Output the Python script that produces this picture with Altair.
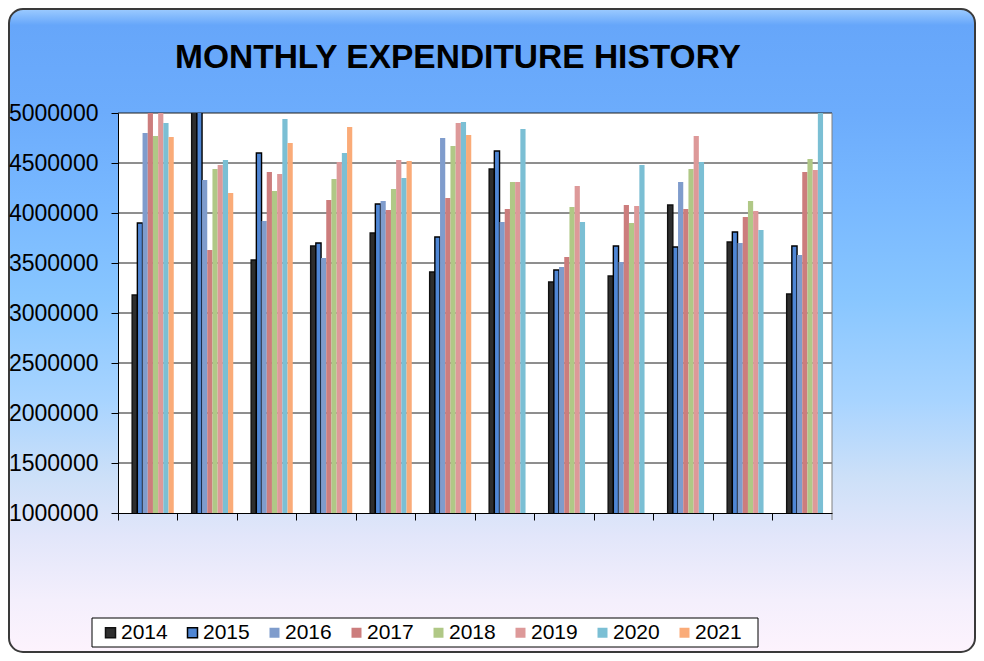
import altair as alt
import pandas as pd

# ---------------- data ----------------
months = ["Jan", "Feb", "Mar", "Apr", "May", "Jun",
          "Jul", "Aug", "Sep", "Oct", "Nov", "Dec"]
years = ["2014", "2015", "2016", "2017", "2018", "2019", "2020", "2021"]
hidden_slots = ["h1", "h2"]  # two empty series slots reserved in each cluster

exp_2014 = [3180000, 5100000, 3530000, 3670000, 3800000, 3410000,
            4440000, 3310000, 3370000, 4080000, 3710000, 3190000]
exp_2015 = [3900000, 5150000, 4600000, 3700000, 4090000, 3760000,
            4620000, 3430000, 3670000, 3660000, 3810000, 3670000]
exp_2016 = [4800000, 4330000, 3920000, 3550000, 4120000, 4750000,
            3910000, 3460000, 3510000, 4310000, 3700000, 3580000]
exp_2017 = [5050000, 3630000, 4410000, 4130000, 4030000, 4150000,
            4040000, 3560000, 4080000, 4040000, 3960000, 4410000]
exp_2018 = [4770000, 4440000, 4220000, 4340000, 4240000, 4670000,
            4310000, 4060000, 3900000, 4440000, 4120000, 4540000]
exp_2019 = [5080000, 4480000, 4390000, 4510000, 4530000, 4900000,
            4310000, 4270000, 4070000, 4770000, 4020000, 4430000]
exp_2020 = [4900000, 4530000, 4940000, 4600000, 4350000, 4910000,
            4840000, 3910000, 4480000, 4510000, 3830000, 5060000]
exp_2021 = [4760000, 4200000, 4700000, 4860000, 4520000, 4780000,
            None, None, None, None, None, None]

series = [exp_2014, exp_2015, exp_2016, exp_2017,
          exp_2018, exp_2019, exp_2020, exp_2021]

bar_colors = ["#2e2e2e", "#4f86d4", "#7f9ccc", "#cc7d7d",
              "#b0c886", "#dd9999", "#7bbfd4", "#faab78"]
bar_strokes = ["#111111", "#000000", "transparent", "transparent",
               "transparent", "transparent", "transparent", "transparent"]

y_ticks = [1000000, 1500000, 2000000, 2500000, 3000000,
           3500000, 4000000, 4500000, 5000000]

rows = []
for yr, vals in zip(years, series):
    for m, v in zip(months, vals):
        if v is not None:
            rows.append({"month": m, "year": yr, "value": v})
df = pd.DataFrame(rows)
grid_df = pd.DataFrame({"value": y_ticks[1:]})
one = pd.DataFrame({"k": [0]})

W, H = 714, 400
FONT = "Liberation Sans"

y_scale = alt.Scale(domain=[1000000, 5000000], nice=False, zero=False)
y_axis = alt.Axis(values=y_ticks, format="d", title=None, grid=False,
                  labelFont=FONT, labelFontSize=23, labelColor="black",
                  tickSize=7, tickColor="black", domainColor="black",
                  labelPadding=13, zindex=1)

# ---------------- decorations ----------------
gradient = alt.Gradient(
    gradient="linear",
    stops=[
        alt.GradientStop(color="#9ccbff", offset=0.0),
        alt.GradientStop(color="#66a6fa", offset=0.025),
        alt.GradientStop(color="#6cacfc", offset=0.16),
        alt.GradientStop(color="#78b8ff", offset=0.30),
        alt.GradientStop(color="#88c6ff", offset=0.45),
        alt.GradientStop(color="#a8d4ff", offset=0.61),
        alt.GradientStop(color="#cde0f8", offset=0.73),
        alt.GradientStop(color="#e2e6fa", offset=0.82),
        alt.GradientStop(color="#f4effc", offset=0.92),
        alt.GradientStop(color="#fdf3fd", offset=1.0),
    ],
    x1=0, x2=0, y1=0, y2=1,
)

frame = alt.Chart(one).mark_rect(
    fill=gradient, stroke="#3a3a3a", strokeWidth=2, cornerRadius=14
).encode(x=alt.value(-109), x2=alt.value(857),
         y=alt.value(-104), y2=alt.value(539))

plot_bg = alt.Chart(one).mark_rect(fill="white").encode(
    x=alt.value(0), x2=alt.value(W), y=alt.value(0), y2=alt.value(H))

legend_box = alt.Chart(one).mark_rect(
    fill="white", stroke="black", strokeWidth=1
).encode(x=alt.value(-26), x2=alt.value(640),
         y=alt.value(505), y2=alt.value(534))

grid = alt.Chart(grid_df).mark_rule(color="#1e1e1e", strokeWidth=1).encode(
    y=alt.Y("value:Q", scale=y_scale, axis=y_axis))

right_edge = alt.Chart(one).mark_rule(color="#808080", strokeWidth=1).encode(
    x=alt.value(W), y=alt.value(0), y2=alt.value(H + 7))

# ---------------- bars ----------------
bars = alt.Chart(df).mark_bar(clip=True, strokeWidth=1.4).encode(
    x=alt.X("month:N", sort=months,
            scale=alt.Scale(domain=months, paddingInner=0, paddingOuter=0),
            axis=alt.Axis(title=None, labels=False, ticks=True, tickSize=7,
                          tickColor="black", domainColor="black",
                          bandPosition=0, grid=False, zindex=1)),
    xOffset=alt.XOffset("year:N",
                        scale=alt.Scale(domain=hidden_slots + years,
                                        paddingInner=0, paddingOuter=0.72)),
    y=alt.Y("value:Q", scale=y_scale, axis=y_axis),
    color=alt.Color("year:N", scale=alt.Scale(domain=years, range=bar_colors),
                    legend=alt.Legend(title=None)),
    stroke=alt.Stroke("year:N", scale=alt.Scale(domain=years, range=bar_strokes),
                      legend=alt.Legend(title=None)),
)

chart = alt.layer(frame, plot_bg, legend_box, grid, right_edge, bars).properties(
    width=W,
    height=H,
    padding={"left": 110, "top": 105, "right": 144, "bottom": 140},
    autosize=alt.AutoSizeParams(type="none"),
    title=alt.TitleParams(
        "MONTHLY EXPENDITURE HISTORY", font=FONT, fontSize=33.5,
        fontWeight="bold", color="black", anchor="middle", frame="group",
        dx=-17, offset=-93, baseline="alphabetic"),
).configure_view(strokeWidth=0).configure_legend(
    orient="none", legendX=-18, legendY=509, direction="horizontal",
    columns=8, padding=0, labelFont=FONT, labelFontSize=21,
    labelColor="black", labelOffset=0, columnPadding=14,
    symbolType="square", symbolSize=100, symbolStrokeWidth=1.5,
)

chart.save("out.html", embed_options={"renderer": "svg", "actions": False})
